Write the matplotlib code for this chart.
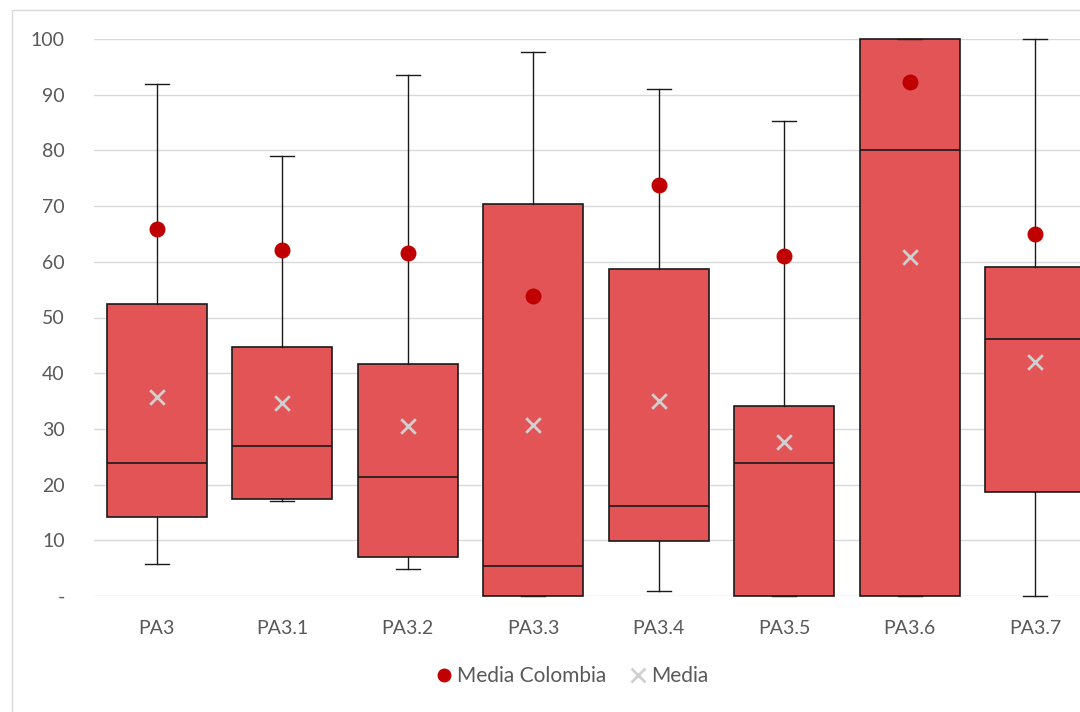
import matplotlib
matplotlib.use("Agg")
import matplotlib.pyplot as plt
from matplotlib.patches import Rectangle
from matplotlib.lines import Line2D

# Daten
categorias = ["PA3", "PA3.1", "PA3.2", "PA3.3", "PA3.4", "PA3.5", "PA3.6", "PA3.7"]
bigote_sup = [92.0, 79.0, 93.5, 97.6, 91.0, 85.3, 100.0, 100.0]
q3 = [52.4, 44.7, 41.7, 70.4, 58.7, 34.1, 100.0, 59.1]
mediana = [23.9, 26.9, 21.4, 5.4, 16.2, 23.9, 80.1, 46.1]
q1 = [14.2, 17.4, 7.0, 0.0, 9.9, 0.0, 0.0, 18.7]
bigote_inf = [5.7, 17.1, 4.8, 0.0, 0.9, 0.0, 0.0, 0.0]
media = [35.7, 34.6, 30.5, 30.7, 35.0, 27.6, 60.9, 42.0]
media_colombia = [65.9, 62.1, 61.6, 53.9, 73.8, 61.0, 92.3, 65.0]

yticks = [0, 10, 20, 30, 40, 50, 60, 70, 80, 90, 100]
ylabels = ["-", "10", "20", "30", "40", "50", "60", "70", "80", "90", "100"]

plt.rcParams['font.family'] = ['Lato', 'DejaVu Sans']

fig = plt.figure(figsize=(10.8, 7.12), dpi=100)
# Rahmen des Diagrammbereichs
fig.patches.append(Rectangle((12 / 1080, -0.1), 1.2, (712 - 10) / 712 + 0.1,
                             transform=fig.transFigure, fill=False,
                             edgecolor="#D9D9D9", linewidth=1))

ax = fig.add_axes([94 / 1080, 116 / 712, 1004 / 1080, 557 / 712])

pos = list(range(len(categorias)))
stats = []
for i in pos:
    stats.append({"med": mediana[i], "q1": q1[i], "q3": q3[i],
                  "whislo": bigote_inf[i], "whishi": bigote_sup[i],
                  "fliers": []})

bp = ax.bxp(stats, positions=pos, widths=0.8, capwidths=0.19,
            patch_artist=True, showfliers=False, manage_ticks=False,
            boxprops=dict(facecolor="#E35457", edgecolor="#1a1a1a", linewidth=1.2),
            medianprops=dict(color="#1a1a1a", linewidth=1.2),
            whiskerprops=dict(color="#1a1a1a", linewidth=1),
            capprops=dict(color="#1a1a1a", linewidth=1))
for a in bp["boxes"] + bp["medians"] + bp["whiskers"] + bp["caps"]:
    a.set_clip_on(False)
    a.set_zorder(3)

ax.scatter(pos, media_colombia, s=110, color="#C00000", zorder=5, clip_on=False)
ax.scatter(pos, media, s=110, marker="x", color="#D0D0D0", linewidths=2, zorder=5)

ax.set_xlim(-0.5, len(categorias) - 0.5)
ax.set_ylim(0, 100)
ax.set_yticks(yticks)
ax.set_yticklabels(ylabels)
ax.set_xticks(pos)
ax.set_xticklabels(categorias)
ax.tick_params(axis="both", length=0, labelsize=14, colors="#595959")
ax.tick_params(axis="x", pad=17)
ax.tick_params(axis="y", pad=21)
ax.grid(True, axis="y", color="#D9D9D9", linewidth=1)
ax.set_axisbelow(True)
for s in ax.spines.values():
    s.set_visible(False)

handles = [Line2D([], [], marker="o", linestyle="none", color="#C00000", markersize=9),
           Line2D([], [], marker="x", linestyle="none", color="#D0D0D0",
                  markersize=10, markeredgewidth=2)]
fig.legend(handles, ["Media Colombia", "Media"], loc="center",
           bbox_to_anchor=(571 / 1080, (712 - 676) / 712), ncol=2, frameon=False,
           fontsize=15, handlelength=1.0, handletextpad=0.15, columnspacing=1.0,
           labelcolor="#595959")

plt.savefig("out.png", dpi=100)
